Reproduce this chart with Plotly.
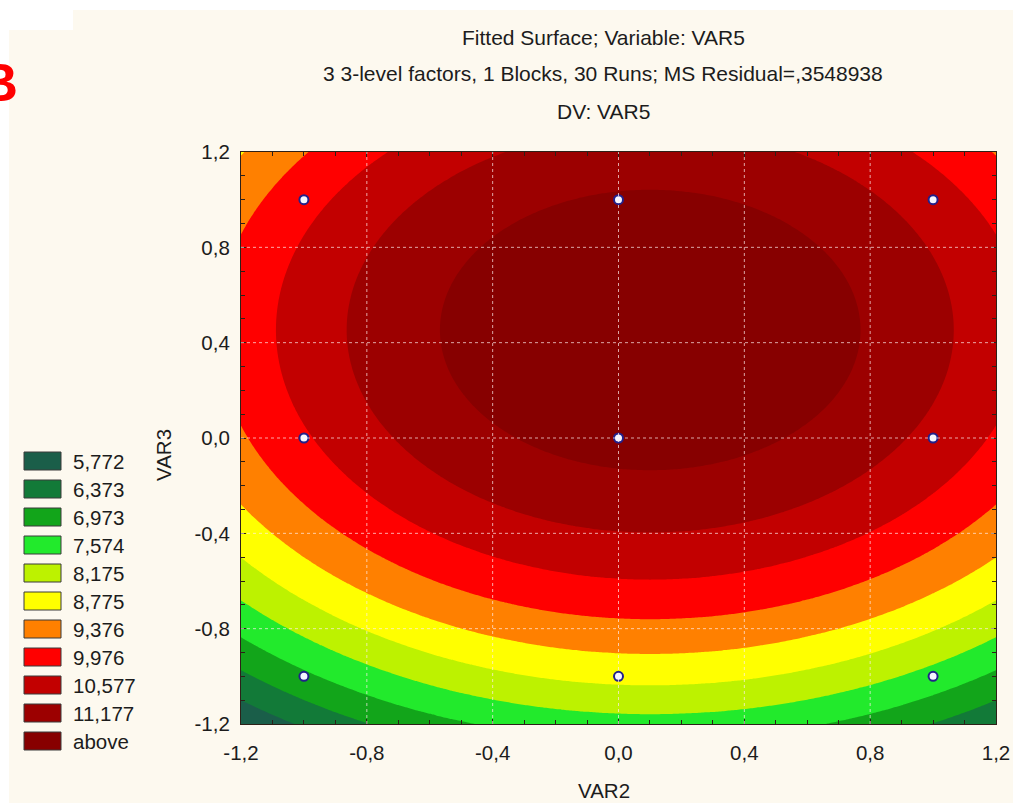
import numpy as np
import plotly.graph_objects as go

# Design points (coded levels) and responses of VAR5 read at each point
var2_pts = [-1, 0, 1, -1, 0, 1, -1, 0, 1]
var3_pts = [-1, -1, -1, 0, 0, 0, 1, 1, 1]
var5_vals = [6.85, 8.34, 7.35, 9.90, 11.39, 10.40, 9.75, 11.24, 10.25]

# Contour levels and the band colours (lowest band first, last one = "above")
levels = [5.772, 6.373, 6.973, 7.574, 8.175, 8.775, 9.376, 9.976, 10.577, 11.177]
band_colors = ["#1a5e49", "#127a38", "#12a51a", "#22ea2c", "#bdf200", "#ffff00",
               "#ff8000", "#ff0000", "#c20000", "#9c0000", "#870000"]

x_ticks = [-1.2, -0.8, -0.4, 0.0, 0.4, 0.8, 1.2]
y_ticks = [-1.2, -0.8, -0.4, 0.0, 0.4, 0.8, 1.2]

title_lines = ["Fitted Surface; Variable: VAR5",
               "3 3-level factors, 1 Blocks, 30 Runs; MS Residual=,3548938",
               "DV: VAR5"]

# Second-order response surface fitted by least squares
px = np.array(var2_pts, float)
py = np.array(var3_pts, float)
X = np.column_stack([np.ones_like(px), px, py, px**2, py**2, px * py])
coef, *_ = np.linalg.lstsq(X, np.array(var5_vals), rcond=None)

gx = np.linspace(-1.2, 1.2, 241)
gy = np.linspace(-1.2, 1.2, 241)
GX, GY = np.meshgrid(gx, gy)
GZ = (coef[0] + coef[1] * GX + coef[2] * GY + coef[3] * GX**2
      + coef[4] * GY**2 + coef[5] * GX * GY)

n_bands = len(band_colors)
colorscale = [[k / (n_bands - 1), c] for k, c in enumerate(band_colors)]
step = (levels[-1] - levels[0]) / (len(levels) - 1)

def fmt(v):
    return ("%.1f" % v).replace(".", ",")

fig = go.Figure()
fig.add_trace(go.Contour(
    x=gx, y=gy, z=GZ,
    colorscale=colorscale,
    showscale=False,
    contours=dict(start=levels[0], end=levels[-1], size=step,
                  coloring="fill", showlines=False),
    line=dict(width=0),
    hoverinfo="skip",
))
fig.add_trace(go.Scatter(
    x=var2_pts, y=var3_pts, mode="markers",
    marker=dict(size=9, color="#f6f6ff", line=dict(color="#23208a", width=2)),
    showlegend=False,
))

# plot area in pixels
W, H = 1013, 803
L, R, T, B = 241, 996, 152, 724

def pxx(p):
    return (p - L) / (R - L)

def pxy(p):
    return (B - p) / (B - T)

FONT = "Liberation Sans, Arial, sans-serif"
TXT = "#1c1c1c"

axis_common = dict(
    range=[-1.2, 1.2], showgrid=False, zeroline=False, showline=True,
    linecolor="#2e2018", linewidth=1.2, mirror="allticks",
    ticks="inside", ticklen=5, tickcolor="#2e2018",
    minor=dict(dtick=0.1, tick0=-1.2, ticks="inside", ticklen=4,
               tickcolor="#2e2018", showgrid=False),
    layer="above traces", automargin=False,
    tickfont=dict(family=FONT, size=20.5, color=TXT),
)

fig.update_layout(
    width=W, height=H, autosize=False,
    margin=dict(l=L, r=W - R, t=T, b=H - B, autoexpand=False),
    paper_bgcolor="#fdf9ef", plot_bgcolor="#fdf9ef",
    showlegend=False,
    xaxis=dict(axis_common, tickvals=x_ticks, ticktext=[fmt(v) for v in x_ticks],
               ticklabelstandoff=10),
    yaxis=dict(axis_common, tickvals=y_ticks, ticktext=[fmt(v) for v in y_ticks],
               ticklabelstandoff=6),
)

annotations = []
for i, line in enumerate(title_lines):
    annotations.append(dict(
        text=line, x=pxx(603), y=pxy(37 + 37 * i), xref="paper", yref="paper",
        xanchor="center", yanchor="middle", showarrow=False,
        font=dict(family=FONT, size=21, color=TXT)))
annotations.append(dict(
    text="VAR2", x=pxx(604), y=pxy(790), xref="paper", yref="paper",
    xanchor="center", yanchor="middle", showarrow=False,
    font=dict(family=FONT, size=20.5, color=TXT)))
annotations.append(dict(
    text="VAR3", x=pxx(163), y=pxy(455), xref="paper", yref="paper",
    xanchor="center", yanchor="middle", showarrow=False, textangle=-90,
    font=dict(family=FONT, size=20.5, color=TXT)))
annotations.append(dict(
    text="<b>B</b>", x=pxx(20), y=pxy(82), xref="paper", yref="paper",
    xanchor="right", yanchor="middle", showarrow=False,
    font=dict(family=FONT, size=54, color="#ff0000")))

shapes = [
    dict(type="rect", xref="paper", yref="paper", x0=pxx(0), x1=pxx(W),
         y0=pxy(0), y1=pxy(10), fillcolor="#ffffff", line=dict(width=0), layer="below"),
    dict(type="rect", xref="paper", yref="paper", x0=pxx(0), x1=pxx(73),
         y0=pxy(0), y1=pxy(30), fillcolor="#ffffff", line=dict(width=0), layer="below"),
    dict(type="rect", xref="paper", yref="paper", x0=pxx(0), x1=pxx(9),
         y0=pxy(0), y1=pxy(H), fillcolor="#ffffff", line=dict(width=0), layer="below"),
]

# dotted grid drawn over the filled surface
grid_line = dict(color="rgba(255,236,236,0.7)", width=1, dash="dot")
for v in x_ticks[1:-1]:
    shapes.append(dict(type="line", xref="x", yref="paper", x0=v, x1=v, y0=0, y1=1,
                       line=grid_line, layer="above"))
for v in y_ticks[1:-1]:
    shapes.append(dict(type="line", xref="paper", yref="y", x0=0, x1=1, y0=v, y1=v,
                       line=grid_line, layer="above"))

# legend: one swatch per band, labelled with its upper bound
legend_labels = [("%.3f" % v).replace(".", ",") for v in levels] + ["above"]
for k, (col, lab) in enumerate(zip(band_colors, legend_labels)):
    yc = 461 + 28 * k
    shapes.append(dict(
        type="rect", xref="paper", yref="paper",
        x0=pxx(24), x1=pxx(61), y0=pxy(yc - 9), y1=pxy(yc + 9),
        fillcolor=col, line=dict(color="#3a3a3a", width=1)))
    annotations.append(dict(
        text=lab, x=pxx(71), y=pxy(yc), xref="paper", yref="paper",
        xanchor="left", yanchor="middle", showarrow=False,
        font=dict(family=FONT, size=20.5, color=TXT)))

fig.update_layout(annotations=annotations, shapes=shapes)
fig.write_html("out.html")
